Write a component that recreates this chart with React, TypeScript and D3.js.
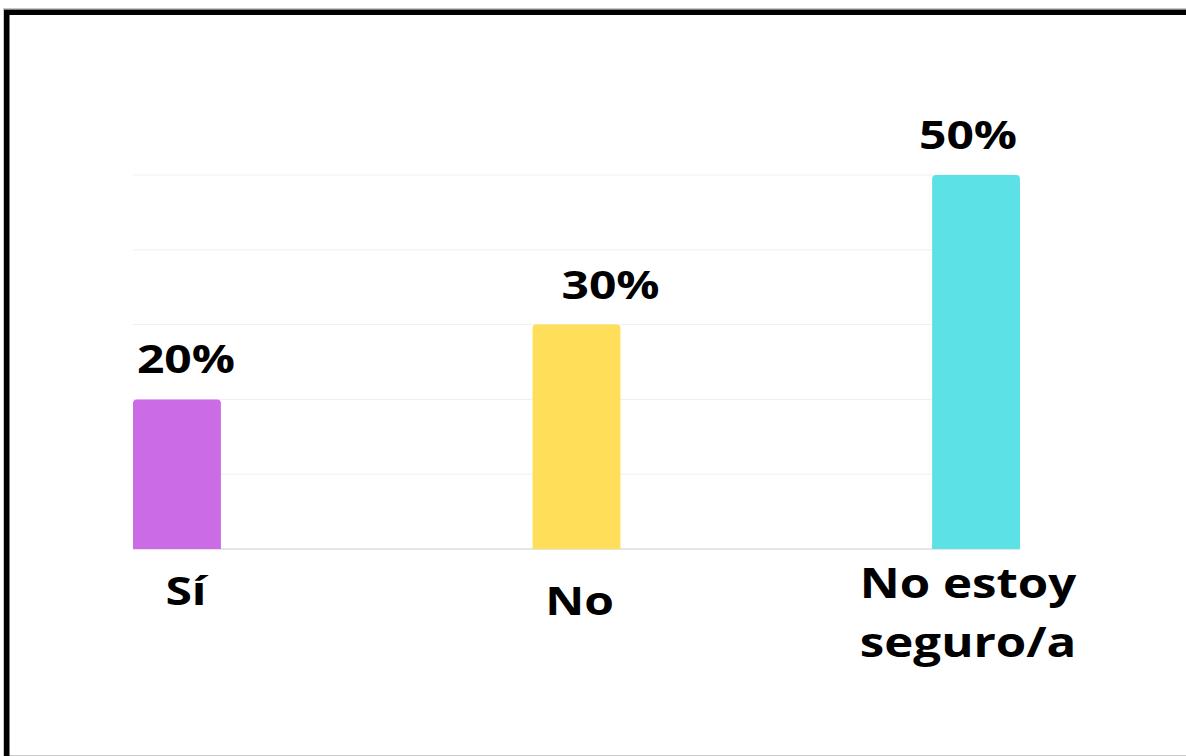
import React from "react";
import * as d3 from "d3";

const categories = ["Sí", "No", "No estoy seguro/a"];
const categoryLines = [["Sí"], ["No"], ["No estoy", "seguro/a"]];
const values = [20, 30, 50];
const valueLabels = ["20%", "30%", "50%"];
const colors = ["#CB6CE6", "#FFDE59", "#5CE1E6"];
const gridTicks = [0, 10, 20, 30, 40, 50];

// label placement tweaks (style, not data)
const valueLabelDx = [9, 34, -8];
const catLabelDx = [9, 3, -8];
const catLabelBaseline = [605, 615, 598];
const catLabelSize = [40, 40, 41];

const W = 1186;
const H = 756;

function topRoundedRect(x: number, y: number, w: number, h: number, r: number) {
  const p = d3.path();
  p.moveTo(x, y + h);
  p.lineTo(x, y + r);
  p.arcTo(x, y, x + r, y, r);
  p.lineTo(x + w - r, y);
  p.arcTo(x + w, y, x + w, y + r, r);
  p.lineTo(x + w, y + h);
  p.closePath();
  return p.toString();
}

export default function App() {
  const x = d3
    .scaleBand<string>()
    .domain(categories)
    .range([133, 1020])
    .paddingInner(0.78)
    .paddingOuter(0);
  const y = d3.scaleLinear().domain([0, 50]).range([549, 175]);
  const font = "'Open Sans', 'Noto Sans', sans-serif";
  const sx = 1.2;

  return (
    <div style={{ position: "absolute", left: 0, top: 0 }}>
      <svg width={W} height={H} style={{ display: "block" }}>
        <rect x={0} y={0} width={W} height={H} fill="#fff" />
        <rect x={3.5} y={8.5} width={W + 20} height={747} fill="none" stroke="#c8c8c8" strokeWidth={1} />
        <rect x={6.75} y={12.25} width={W + 20} height={H + 20} fill="none" stroke="#000" strokeWidth={5.5} />
        {gridTicks.map((t) => (
          <line
            key={t}
            x1={133}
            x2={1020}
            y1={y(t)}
            y2={y(t)}
            stroke={t === 0 ? "#dcdcdc" : "#efefef"}
            strokeWidth={t === 0 ? 1.5 : 1}
          />
        ))}
        {categories.map((c, i) => {
          const bx = x(c)!;
          const bw = x.bandwidth();
          const by = y(values[i]);
          const cx = bx + bw / 2;
          return (
            <g key={c}>
              <path d={topRoundedRect(bx, by, bw, y(0) - by, 4)} fill={colors[i]} />
              <text
                transform={`translate(${cx + valueLabelDx[i]},${by - 26}) scale(${sx},1)`}
                textAnchor="middle"
                fontFamily={font}
                fontWeight={700}
                fontSize={40}
                fill="#000"
              >
                {valueLabels[i]}
              </text>
              {categoryLines[i].map((ln, j) => (
                <text
                  key={j}
                  transform={`translate(${cx + catLabelDx[i]},${catLabelBaseline[i] + j * 59}) scale(${sx},1)`}
                  textAnchor="middle"
                  fontFamily={font}
                  fontWeight={700}
                  fontSize={catLabelSize[i]}
                  fill="#000"
                >
                  {ln}
                </text>
              ))}
            </g>
          );
        })}
      </svg>
    </div>
  );
}
